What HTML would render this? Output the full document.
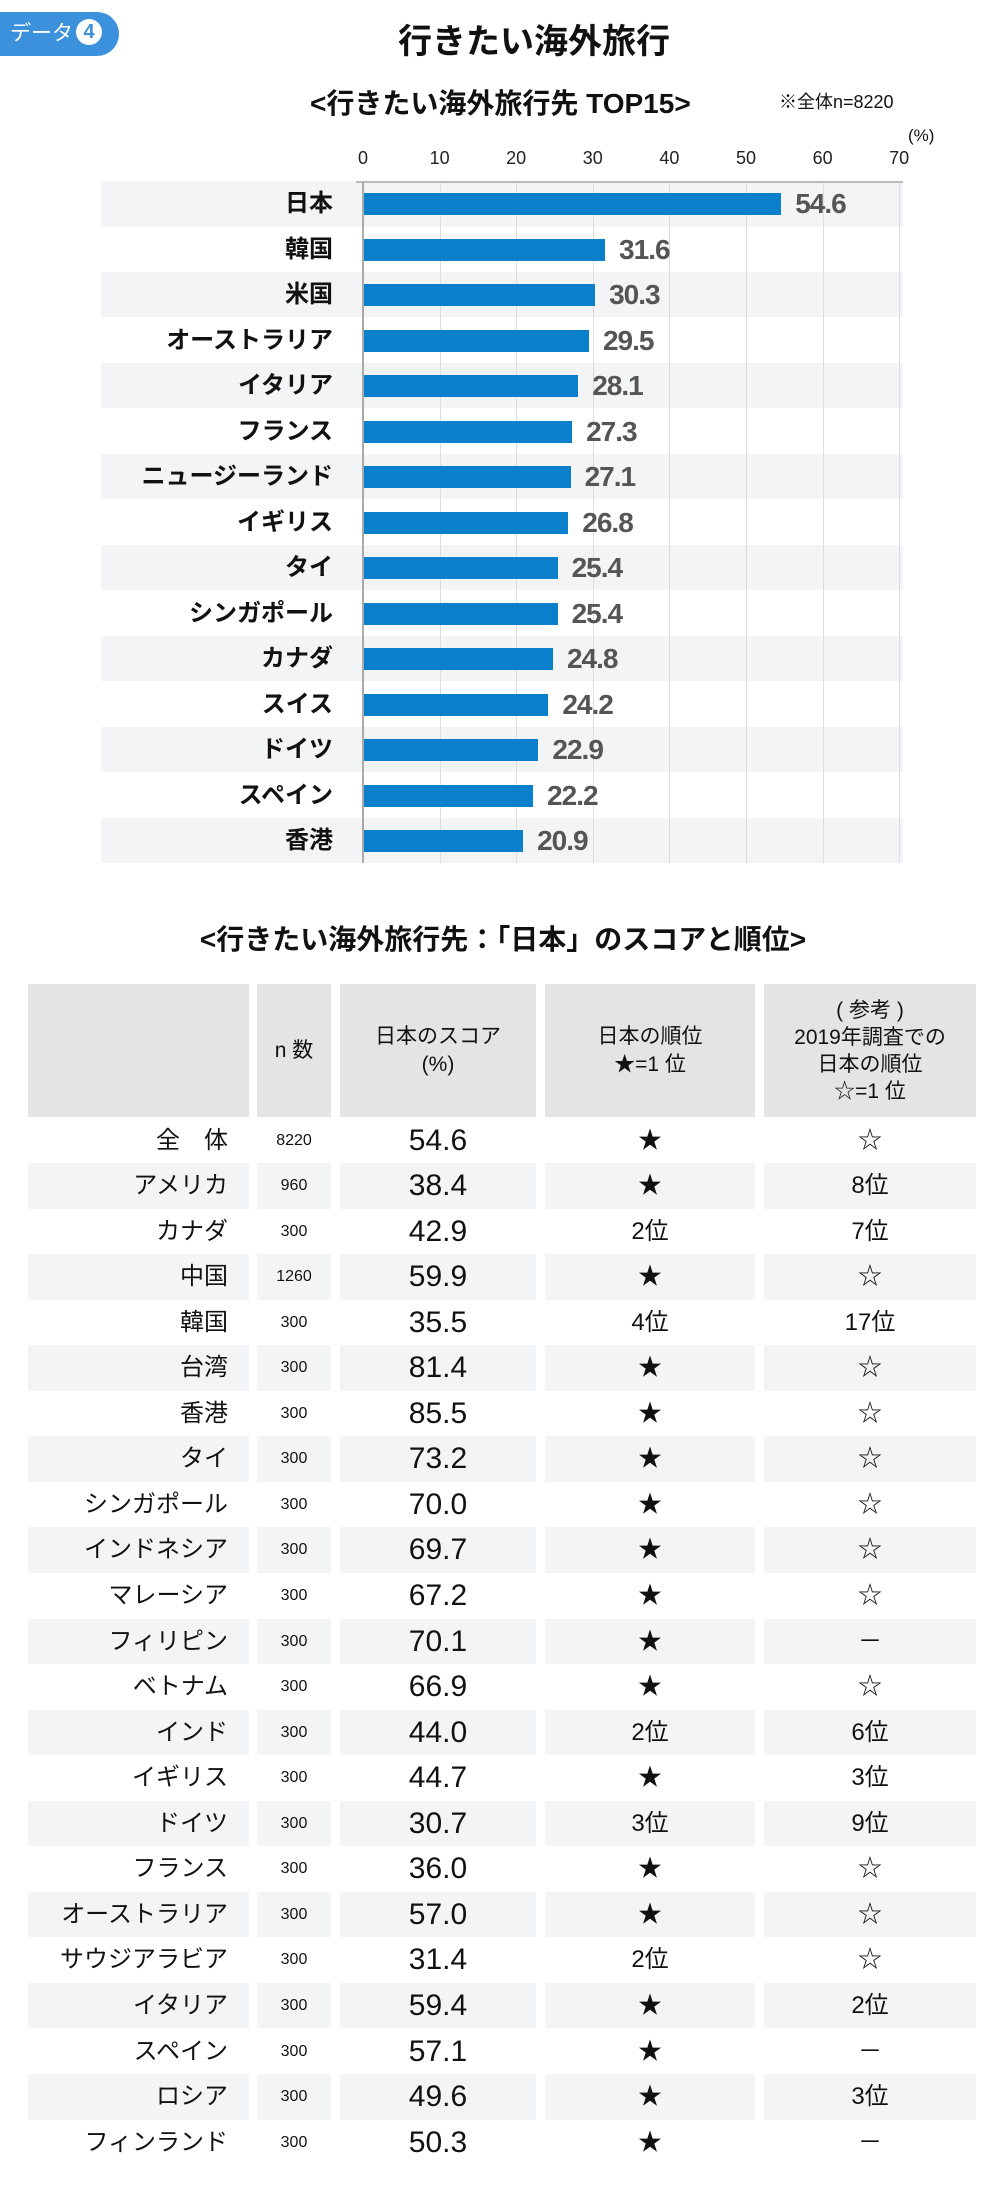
<!DOCTYPE html>
<html><head><meta charset="utf-8"><style>
*{margin:0;padding:0;box-sizing:border-box}
body{width:1000px;height:2186px;background:#fff;position:relative;font-family:"Liberation Sans","Noto Sans CJK JP",sans-serif;color:#111;overflow:hidden}
.a{position:absolute;white-space:nowrap}
.band{position:absolute;left:101px;width:802px;height:45.5px;background:#f3f4f6}
.grid{position:absolute;top:182px;height:681px;width:1px;background:#ddd}
.bar{position:absolute;left:363px;height:22px;background:#0a7fcc}
.lbl{position:absolute;right:667px;font-size:24px;line-height:30px;text-align:right;font-weight:bold}
.val{position:absolute;font-size:28px;font-weight:bold;color:#555;line-height:30px;letter-spacing:-1px}
.tk{position:absolute;top:148px;font-size:18px;width:40px;text-align:center;margin-left:-20px;color:#222}
.h{position:absolute;top:984px;height:133px;background:#e4e4e4;display:flex;align-items:center;justify-content:center;text-align:center;font-size:21px;line-height:28px}
.r{position:absolute;height:45.5px}
.c{position:absolute;text-align:center;line-height:45.5px}
</style></head><body>
<div class="a" style="left:0;top:12px;width:119px;height:44px;background:#3b91dc;border-radius:0 22px 22px 0;color:#fff;font-size:21px;line-height:44px;padding-left:10px">データ<span style="display:inline-block;width:26px;height:26px;border-radius:13px;background:#fff;color:#3b91dc;font-weight:bold;text-align:center;line-height:26px;font-size:20px;margin-left:3px;vertical-align:2px">4</span></div>
<div class="a" style="left:0;width:1068px;top:14px;text-align:center;font-size:34px;font-weight:bold">行きたい海外旅行</div>
<div class="a" style="left:310px;top:82px;font-size:28px;font-weight:bold">&lt;行きたい海外旅行先 TOP15&gt;</div>
<div class="a" style="left:779px;top:88px;font-size:18px">※全体n=8220</div>
<div class="a" style="left:908px;top:126px;font-size:17px">(%)</div>

<div id="chart"></div>
<div class="a" style="left:356px;top:181px;width:547px;height:2px;background:#bbb"></div>
<div class="a" style="left:362px;top:181px;width:2px;height:682px;background:#aaa"></div>

<div class="a" style="left:0;width:1006px;top:918px;text-align:center;font-size:28px;font-weight:bold">&lt;行きたい海外旅行先：「日本」のスコアと順位&gt;</div>
<div class="h" style="left:28px;width:221px"></div>
<div class="h" style="left:257px;width:74px">n 数</div>
<div class="h" style="left:340px;width:196px">日本のスコア<br>(%)</div>
<div class="h" style="left:545px;width:210px">日本の順位<br>★=1 位</div>
<div class="h" style="left:764px;width:212px;line-height:27px">( 参考 )<br>2019年調査での<br>日本の順位<br>☆=1 位</div>
<div id="tbl"></div>
<script>
var d=[["日本",54.6],["韓国",31.6],["米国",30.3],["オーストラリア",29.5],["イタリア",28.1],["フランス",27.3],["ニュージーランド",27.1],["イギリス",26.8],["タイ",25.4],["シンガポール",25.4],["カナダ",24.8],["スイス",24.2],["ドイツ",22.9],["スペイン",22.2],["香港",20.9]];
var s=7.66,x0=363,h="";
for(var i=0;i<15;i++){var t=181+i*45.47;if(i%2==0)h+='<div class="band" style="top:'+t+'px"></div>';}
for(var k=0;k<=70;k+=10){h+='<div class="tk" style="left:'+(x0+k*s)+'px">'+k+'</div>';if(k>0)h+='<div class="grid" style="left:'+(x0+k*s)+'px"></div>';}
for(var i=0;i<15;i++){var c=204+i*45.5,w=d[i][1]*s;
h+='<div class="lbl" style="top:'+(c-15)+'px">'+d[i][0]+'</div>';
h+='<div class="bar" style="top:'+(c-11)+'px;width:'+w+'px"></div>';
h+='<div class="val" style="top:'+(c-15)+'px;left:'+(x0+w+14)+'px">'+d[i][1].toFixed(1)+'</div>';}
document.getElementById('chart').innerHTML=h;
var T=[["全　体","8220","54.6","★","☆"],["アメリカ","960","38.4","★","8位"],["カナダ","300","42.9","2位","7位"],["中国","1260","59.9","★","☆"],["韓国","300","35.5","4位","17位"],["台湾","300","81.4","★","☆"],["香港","300","85.5","★","☆"],["タイ","300","73.2","★","☆"],["シンガポール","300","70.0","★","☆"],["インドネシア","300","69.7","★","☆"],["マレーシア","300","67.2","★","☆"],["フィリピン","300","70.1","★","－"],["ベトナム","300","66.9","★","☆"],["インド","300","44.0","2位","6位"],["イギリス","300","44.7","★","3位"],["ドイツ","300","30.7","3位","9位"],["フランス","300","36.0","★","☆"],["オーストラリア","300","57.0","★","☆"],["サウジアラビア","300","31.4","2位","☆"],["イタリア","300","59.4","★","2位"],["スペイン","300","57.1","★","－"],["ロシア","300","49.6","★","3位"],["フィンランド","300","50.3","★","－"]];
var cols=[[28,221],[257,74],[340,196],[545,210],[764,212]];h="";
for(var i=0;i<T.length;i++){var t=1117.5+i*45.55;
if(i%2==1)for(var j=0;j<5;j++)h+='<div class="r" style="background:#f3f4f6;top:'+t+'px;left:'+cols[j][0]+'px;width:'+cols[j][1]+'px"></div>';
h+='<div class="c" style="top:'+t+'px;left:28px;width:200px;text-align:right;font-size:24px">'+T[i][0]+'</div>';
h+='<div class="c" style="top:'+t+'px;left:257px;width:74px;font-size:16px">'+T[i][1]+'</div>';
h+='<div class="c" style="top:'+t+'px;left:340px;width:196px;font-size:30px">'+T[i][2]+'</div>';
h+='<div class="c" style="top:'+t+'px;left:545px;width:210px;font-size:24px">'+T[i][3]+'</div>';
h+='<div class="c" style="top:'+t+'px;left:764px;width:212px;font-size:24px">'+T[i][4]+'</div>';}
document.getElementById('tbl').innerHTML=h;
</script>
</body></html>
